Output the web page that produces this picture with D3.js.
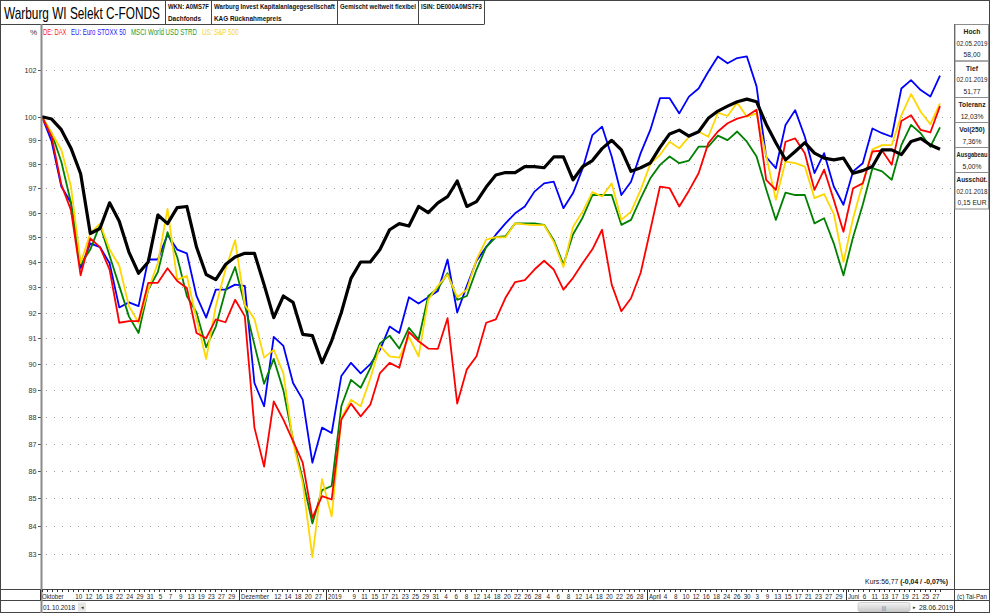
<!DOCTYPE html>
<html><head><meta charset="utf-8">
<script src="https://cdn.jsdelivr.net/npm/d3@7/dist/d3.min.js"></script>
<style>
body{margin:0;background:#fff;}
svg{display:block;font-family:"Liberation Sans",Arial,sans-serif;}
</style></head><body>
<svg id="c" width="990" height="613"></svg>
<script>
// ---------- DATA ----------
const firstDay = "2018-10-01", lastDay = "2019-06-28";
const closedDays = ["2018-10-26","2018-11-01","2018-11-15","2018-11-16","2018-11-21","2018-11-22",
  "2018-12-24","2018-12-25","2018-12-26","2018-12-31","2019-01-01","2019-04-19","2019-04-22",
  "2019-05-01","2019-05-07","2019-05-08","2019-05-30","2019-06-10"];

// values in % of start (sampled evenly across the period)
const fund = [100.0,99.9,99.45,98.67,97.6,95.15,95.35,96.4,95.65,94.4,93.55,94.0,95.9,95.55,96.2,96.25,94.6,93.5,93.3,93.9,94.2,94.35,94.35,93.1,91.8,92.65,92.4,91.15,91.1,90.05,90.9,92.0,93.35,94.0,94.0,94.5,95.3,95.55,95.45,96.25,96.0,96.4,96.65,97.3,96.25,96.45,97.05,97.55,
  97.65,97.65,97.9,97.9,97.85,98.3,98.3,97.35,97.9,98.15,98.65,99.0,98.6,97.7,97.85,98.05,98.7,99.27,99.43,99.18,99.36,99.93,100.24,100.45,100.64,100.75,100.64,99.68,98.9,98.18,98.53,98.9,98.46,98.25,98.18,98.25,97.62,97.73,97.9,98.6,98.6,98.4,98.95,99.08,98.8,98.62];
const stoxx = [100,98.95,97.07,96.4,93.75,94.75,94.6,93.95,92.2,92.4,92.25,94.1,94.1,95.1,94.5,94.35,92.65,91.8,92.9,92.9,93.1,93.05,89.28,88.4,91.05,90.7,89.28,88.65,86.3,87.6,87.4,89.55,90.05,89.65,90.0,90.55,91.45,91.2,92.6,92.35,92.6,92.85,94.1,92.0,93.05,94.05,94.6,95.1,
  95.56,95.97,96.25,96.86,97.2,97.27,96.18,96.8,97.83,99.22,99.58,98.32,96.72,97.27,98.46,99.44,100.79,100.79,100.14,100.86,101.21,101.93,102.6,102.3,102.53,102.6,101.3,98.3,97.83,99.65,100.28,99.15,97.63,98.46,97.07,96.32,97.7,98.04,99.5,99.3,99.15,101.21,101.57,101.14,100.86,101.76];
const msci = [100,99.3,98.1,96.4,93.9,94.5,95.5,94.25,93.05,91.85,91.2,92.9,93.6,95.2,94.2,92.65,92.0,90.65,91.45,92.85,93.8,92.3,90.75,89.25,90.2,89.0,87.15,85.7,84.1,85.3,85.45,88.4,89.4,89.1,89.85,90.8,91.1,90.6,91.4,90.95,92.65,92.95,93.55,92.5,92.65,93.7,94.6,95.0,
  95.04,95.56,95.56,95.56,95.5,94.88,93.9,95.12,95.8,96.72,96.72,96.72,95.5,95.7,96.58,97.41,97.97,98.32,98.04,98.15,98.73,98.73,99.2,99.01,99.37,98.94,98.32,96.96,95.7,96.82,96.72,96.72,95.56,95.77,94.75,93.47,95.01,96.32,97.83,97.7,97.35,98.8,99.65,99.3,98.73,99.55];
const sp500 = [100,99.3,98.6,97.07,93.96,95.15,95.55,94.5,93.85,92.25,91.6,92.9,93.96,96.15,93.3,93.45,91.75,90.2,92.25,93.7,94.88,92.3,91.75,90.25,90.55,89.65,87.05,85.55,82.9,85.7,84.35,87.95,88.65,88.4,89.45,90.7,90.3,90.25,91.05,90.3,92.5,93.05,93.5,92.6,92.9,94.1,94.9,95.0,
  94.99,95.56,95.52,95.49,95.49,94.81,93.8,95.42,96.04,96.84,96.66,97.2,95.7,96.04,96.93,98.01,98.39,98.94,98.66,99.15,99.37,99.15,100.17,100.03,100.6,100.0,100.14,98.34,96.52,98.11,98.04,97.9,96.59,96.76,95.95,94.0,95.77,97.2,98.62,98.8,98.8,100.06,100.97,100.21,99.68,100.57];
const dax = [100,99.15,97.15,96.1,93.47,94.95,94.6,93.7,91.6,91.66,91.66,93.17,93.17,93.75,93.24,92.97,91.2,91.0,91.73,91.62,92.5,91.86,87.6,86.16,88.58,87.9,87.1,86.3,84.3,85.08,84.96,87.9,88.5,88.02,88.46,89.66,90.05,89.86,91.24,90.88,90.6,90.59,91.78,88.5,89.8,90.3,91.6,91.73,
  92.58,93.2,93.28,93.7,94.05,93.7,92.9,93.37,93.96,94.51,95.3,93.1,92.05,92.56,93.57,95.29,97.07,97.0,96.25,96.9,97.62,98.87,99.37,99.72,99.92,100.03,100.3,97.35,96.93,98.94,99.08,98.46,96.93,97.77,96.52,95.22,97.0,97.2,98.53,98.57,97.97,99.82,100.06,99.44,99.33,100.45];

const legendNames = ["DE: DAX","EU: Euro STOXX 50","MSCI World USD STRD","US: S&P 500"];
const yTicks = [102,100,99,98,97,96,95,94,93,92,91,90,89,88,87,86,85,84,83];
const monthTicks = [["2018-10-01","Oktober"],["2018-12-03","Dezember"],["2019-01-02","2019"],["2019-04-01","April"],["2019-06-03","Juni"]];
const dayTicks = ["2018-10-10","2018-10-12","2018-10-16","2018-10-18","2018-10-22","2018-10-24","2018-10-29","2018-10-31",
 "2018-11-05","2018-11-07","2018-11-09","2018-11-13","2018-11-19","2018-11-23","2018-11-27","2018-11-29",
 "2018-12-12","2018-12-14","2018-12-18","2018-12-20","2018-12-27",
 "2019-01-09","2019-01-11","2019-01-15","2019-01-17","2019-01-21","2019-01-23","2019-01-25","2019-01-29","2019-01-31",
 "2019-02-04","2019-02-06","2019-02-08","2019-02-12","2019-02-14","2019-02-18","2019-02-20","2019-02-22","2019-02-26","2019-02-28",
 "2019-03-04","2019-03-06","2019-03-08","2019-03-12","2019-03-14","2019-03-18","2019-03-20","2019-03-22","2019-03-26","2019-03-28",
 "2019-04-04","2019-04-08","2019-04-10","2019-04-12","2019-04-16","2019-04-18","2019-04-24","2019-04-26","2019-04-30",
 "2019-05-03","2019-05-09","2019-05-13","2019-05-15","2019-05-17","2019-05-21","2019-05-23","2019-05-27","2019-05-29",
 "2019-06-06","2019-06-11","2019-06-13","2019-06-17","2019-06-19","2019-06-21","2019-06-25","2019-06-27"];
const headerCells = [["WKN: A0MS7F","Dachfonds"],["Warburg Invest Kapitalanlagegesellschaft","KAG Rücknahmepreis"],["Gemischt weltweit flexibel",""],["ISIN: DE000A0MS7F3",""]];
const statBoxes = [["Hoch","02.05.2019","58,00"],["Tief","02.01.2019","51,77"],["Toleranz","12,03%"],["Vol(250)","7,36%"],["Ausgabeau","5,00%"],["Ausschüt.","02.01.2018","0,15 EUR"]];

// ---------- BUILD ----------
const days = [];
{
  const end = new Date(lastDay + "T00:00:00Z");
  for (let d = new Date(firstDay + "T00:00:00Z"); d <= end; d.setUTCDate(d.getUTCDate() + 1)) {
    const wd = d.getUTCDay(), s = d.toISOString().slice(0, 10);
    if (wd > 0 && wd < 6 && !closedDays.includes(s)) days.push(s);
  }
}
const dayIdx = s => days.indexOf(s);

const svg = d3.select("#c");
const plotL = 42, plotR = 954.5, dataR = 940, topY = 24, axisTop = 589.5, axisBot = 600.5;
const xs = d3.scaleLinear().domain([0, days.length - 1]).range([plotL, dataR]);
const ys = d3.scaleLog().domain([83, 100]).range([554.3, 116.7]);

// squeeze text horizontally (by factor f, never wider than maxW) using a transform
function squeeze(sel, f, maxW) {
  sel.each(function () {
    const el = d3.select(this);
    const w = this.getComputedTextLength();
    let s = f;
    if (maxW !== undefined && w * s > maxW) s = maxW / w;
    const x0 = +el.attr("x") || 0, y0 = +el.attr("y") || 0;
    el.attr("x", 0).attr("y", 0).attr("transform", `translate(${x0},${y0}) scale(${s},1)`);
  });
  return sel;
}

svg.append("rect").attr("width", 990).attr("height", 613).attr("fill", "#fff");

// gridlines
const grid = svg.append("g");
grid.selectAll("line.g").data(yTicks).join("line").attr("class", "g")
  .attr("x1", plotL + 4).attr("x2", plotR - 2)
  .attr("y1", d => Math.round(ys(d)) + 0.5).attr("y2", d => Math.round(ys(d)) + 0.5)
  .attr("stroke", "#9a9a9a").attr("stroke-width", 1).attr("stroke-dasharray", "1,7");
grid.selectAll("line.t").data(yTicks).join("line").attr("class", "t")
  .attr("x1", 38).attr("x2", 41)
  .attr("y1", d => Math.round(ys(d)) + 0.5).attr("y2", d => Math.round(ys(d)) + 0.5)
  .attr("stroke", "#555");
squeeze(grid.selectAll("text").data(yTicks).join("text")
  .attr("x", 36.5).attr("y", d => ys(d) + 3).attr("text-anchor", "end")
  .attr("font-size", 8).attr("fill", "#333").text(d => d), 0.9);

// lines
const sx = i => xs(i * (days.length - 1) / (fund.length - 1));
const line = d3.line().x((d, i) => sx(i)).y(d => ys(d));
const seriesData = [stoxx, msci, sp500, dax, fund];
const seriesColor = ["#0000ff", "#008000", "#ffd700", "#ff0000", "#000000"];
const seriesWidth = [1.8, 1.8, 1.8, 1.8, 3.2];
svg.append("g").selectAll("path").data(seriesData).join("path")
  .attr("d", d => line(d)).attr("fill", "none")
  .attr("stroke", (d, i) => seriesColor[i]).attr("stroke-width", (d, i) => seriesWidth[i])
  .attr("stroke-linejoin", "round");

// legend
const legendColor = ["#ff2020", "#2020ff", "#1f9a1f", "#f2d33a"];
const legendX = [43, 71, 131, 202];
const legendW = [23.5, 55, 66, 36.5];
svg.append("g").selectAll("text").data(legendNames).join("text")
  .attr("x", (d, i) => legendX[i]).attr("y", 35).attr("font-size", 8.5)
  .attr("fill", (d, i) => legendColor[i]).text(d => d)
  .each(function (d, i) { squeeze(d3.select(this), 1, legendW[i]); });
svg.append("text").attr("x", 37).attr("y", 35).attr("text-anchor", "end").attr("font-size", 8).attr("fill", "#333").text("%");

// frame lines
const fr = svg.append("g").attr("stroke", "#444").attr("fill", "none");
fr.append("rect").attr("x", 0.5).attr("y", 0.5).attr("width", 989).attr("height", 612);
fr.append("line").attr("x1", 0).attr("x2", 484.5).attr("y1", topY + 0.5).attr("y2", topY + 0.5);
const cellX = [165.5, 211.5, 337.5, 418.5, 484.5];
cellX.forEach(cx => fr.append("line").attr("x1", cx).attr("x2", cx).attr("y1", 0).attr("y2", topY));
fr.append("line").attr("x1", 0).attr("x2", 990).attr("y1", axisTop).attr("y2", axisTop);
fr.append("line").attr("x1", 0).attr("x2", 990).attr("y1", axisBot).attr("y2", axisBot);
fr.append("line").attr("x1", plotR).attr("x2", plotR).attr("y1", topY).attr("y2", 613);
svg.append("line").attr("x1", plotL - 0.5).attr("x2", plotL - 0.5).attr("y1", topY).attr("y2", 613)
  .attr("stroke", "#8a8a8a").attr("stroke-width", 2);

// header
squeeze(svg.append("text").attr("x", 4).attr("y", 18.5).attr("font-size", 16).attr("fill", "#000")
  .text("Warburg WI Selekt C-FONDS"), 1, 156);
const hdr = svg.append("g").attr("font-size", 8).attr("font-weight", "bold").attr("fill", "#111");
headerCells.forEach((c, i) => {
  const avail = cellX[i + 1] - cellX[i] - 5;
  c.forEach((t, j) => {
    if (!t) return;
    squeeze(hdr.append("text").attr("x", cellX[i] + 2.5).attr("y", 9 + j * 11.5).text(t), 0.8, avail);
  });
});

// x axis
const ax = svg.append("g").attr("font-size", 7.8).attr("fill", "#222");
ax.selectAll("line").data(days).join("line")
  .attr("x1", (d, i) => Math.round(xs(i)) + 0.5).attr("x2", (d, i) => Math.round(xs(i)) + 0.5)
  .attr("y1", axisTop).attr("y2", axisTop + 2.5).attr("stroke", "#333");
monthTicks.forEach(([d, t]) => {
  const px = Math.round(xs(dayIdx(d))) - 1.5;
  ax.append("line").attr("x1", px).attr("x2", px).attr("y1", axisTop).attr("y2", axisBot).attr("stroke", "#333");
  squeeze(ax.append("text").attr("x", px + 1.5).attr("y", axisTop + 9).text(t), 0.78);
});
squeeze(ax.selectAll("text.d").data(dayTicks).join("text").attr("class", "d")
  .attr("x", d => xs(dayIdx(d)) + 1).attr("y", axisTop + 9).attr("text-anchor", "middle")
  .text(d => +d.slice(8)), 0.8);

// bottom row
const br = svg.append("g").attr("font-size", 8).attr("fill", "#222");
squeeze(br.append("text").attr("x", 43).attr("y", 609.5).text("01.10.2018"), 1, 32);
br.append("rect").attr("x", 78).attr("y", 602.5).attr("width", 8).attr("height", 9).attr("fill", "#e4e4e4");
br.append("text").attr("x", 82).attr("y", 609).attr("text-anchor", "middle").attr("font-size", 5).text("◂");
const grad = svg.append("defs").append("linearGradient").attr("id", "sb").attr("x1", 0).attr("x2", 0).attr("y1", 0).attr("y2", 1);
grad.append("stop").attr("offset", 0).attr("stop-color", "#f4f4f4");
grad.append("stop").attr("offset", 1).attr("stop-color", "#c8c8c8");
br.append("rect").attr("x", 858).attr("y", 602.5).attr("width", 52).attr("height", 9).attr("rx", 2)
  .attr("fill", "url(#sb)").attr("stroke", "#aaa").attr("stroke-width", 0.5);
br.append("text").attr("x", 884).attr("y", 609.5).attr("text-anchor", "middle").attr("font-size", 6).attr("fill", "#777").text("|||");
br.append("text").attr("x", 914).attr("y", 609).attr("text-anchor", "middle").attr("font-size", 5).text("▸");
squeeze(br.append("text").attr("x", 953).attr("y", 609.5).attr("text-anchor", "end").text("28.06.2019"), 1, 34);
squeeze(br.append("text").attr("x", 957).attr("y", axisTop + 9).text("(c) Tai-Pan"), 1, 30);

// Kurs line
const k = svg.append("text").attr("x", 948).attr("y", 584).attr("text-anchor", "end").attr("font-size", 8).attr("fill", "#111");
k.append("tspan").text("Kurs:56,77 ");
k.append("tspan").attr("font-weight", "bold").text("(-0,04 / -0,07%)");
squeeze(k, 0.86);

// stats panel
const sp = svg.append("g").attr("font-size", 8).attr("fill", "#222");
let yy = topY;
statBoxes.forEach(box => {
  const h = box.length * 11.5 + 2;
  sp.append("rect").attr("x", plotR + 0.5).attr("y", yy + 0.5).attr("width", 988.5 - plotR - 0.5).attr("height", h)
    .attr("fill", "none").attr("stroke", "#8c8c8c");
  box.forEach((t, j) => {
    squeeze(sp.append("text").attr("x", (plotR + 989.5) / 2).attr("y", yy + 10 + j * 11.5)
      .attr("text-anchor", "middle").attr("font-weight", j === 0 ? "bold" : "normal").text(t), 0.84, 31);
  });
  yy += h;
});
</script>
</body></html>
